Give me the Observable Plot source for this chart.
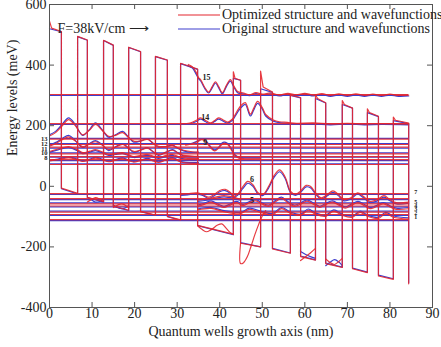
<!DOCTYPE html>
<html><head><meta charset="utf-8">
<script src="https://cdn.jsdelivr.net/npm/d3@7"></script>
<script src="https://cdn.jsdelivr.net/npm/@observablehq/plot@0.6"></script>
<style>
html,body{margin:0;padding:0;background:#fff;}
#wrap{position:relative;width:441px;height:347px;font-family:"Liberation Serif",serif;}
#legend{position:absolute;left:178px;top:8px;font-size:14px;color:#222;line-height:14px;}
#legend .row{display:flex;align-items:center;height:14px;white-space:nowrap;}
#legend span{margin-left:2px;}
</style></head><body><div id="wrap"></div>
<script>
// ---------- data ----------
const seriesNames = ["Optimized structure and wavefunctions", "Original structure and wavefunctions"];
const xTicks = [0, 10, 20, 30, 40, 50, 60, 70, 80, 90];
const yTicks = [-400, -200, 0, 200, 400, 600];

// conduction band profile [nm, meV]
const profileOriginal = [[0,520],[2.8,510],[2.8,-8],[6.6,-25],[6.6,494],[8.9,482],[8.9,-37],[12.7,-52],[12.7,481],[15.0,465],[15.0,-66],[18.6,-80],[18.6,458],[21.4,444],[21.4,-84],[24.9,-96],[24.9,428],[27.7,416],[27.7,-100],[30.8,-112],[30.8,405],[34.8,386],[34.8,-130],[43.2,-160],[43.2,356],[44.9,350],[44.9,-186],[49.6,-200],[49.6,322],[52.4,310],[52.4,-205],[56.6,-220],[56.6,300],[59.0,292],[59.0,-230],[62.5,-243],[62.5,290],[64.9,275],[64.9,-253],[68.8,-267],[68.8,270],[71.2,258],[71.2,-270],[74.7,-283],[74.7,243],[77.3,230],[77.3,-293],[80.8,-305],[80.8,217],[84.4,207],[84.4,-318]];
const profileOptimized = [[0,545],[0.5,522],[2.8,511],[2.8,-6],[6.6,-23],[6.6,495],[8.9,483],[8.9,-36],[12.7,-51],[12.7,482],[15.0,466],[15.0,-65],[18.6,-79],[18.6,459],[21.4,445],[21.4,-83],[24.9,-95],[24.9,429],[27.7,417],[27.7,-99],[30.8,-111],[30.8,406],[34.8,387],[34.8,-129],[43.2,-158],[43.2,378],[43.6,356],[44.9,350],[44.9,-188],[49.6,-200],[49.6,380],[50.2,328],[52.4,311],[52.4,-207],[56.6,-221],[56.6,301],[59.0,293],[59.0,-232],[62.5,-244],[62.5,302],[63.0,290],[64.9,276],[64.9,-255],[68.8,-268],[68.8,283],[69.3,270],[71.2,258],[71.2,-272],[74.7,-285],[74.7,256],[75.2,243],[77.3,231],[77.3,-296],[80.8,-307],[80.8,228],[81.3,218],[84.4,209],[84.4,-322]];

// energy levels (meV), drawn across the structure
const levelSpan = [0, 84.4];
const levelsOriginal = [300, 204, 158, 141, 126, 110, 96, 85, 74, -27, -44, -55, -68, -82, -96, -113];
const levelsOptimized = [303, 207, 156, 138, 129, 107, 98, 88, 72, -24, -41, -58, -65, -85, -93, -110];

// wavefunctions [nm, meV]
const wf13Original = [[0,170],[1.5,182],[3,205],[4.5,226],[6,205],[7.8,168],[9.3,186],[10.8,209],[12.3,188],[13.9,162],[15.5,170],[17.2,181],[18.5,163],[19.8,146],[21.5,150],[23,157],[24.3,142],[25.6,129],[27.3,131],[28.9,136],[30.2,125],[31.5,117],[33.5,112],[35,112]];
const wf13Optimized = [[0,166],[1.5,178],[3,200],[4.5,220],[6,201],[7.8,170],[9.3,184],[10.8,204],[12.3,186],[13.9,165],[15.5,168],[17.2,177],[18.5,162],[19.8,149],[21.5,150],[23,155],[24.3,143],[25.6,132],[27.3,131],[28.9,134],[30.2,126],[31.5,119],[33.5,114],[35,113]];
const wf12Original = [[0,135],[1.5,145],[3,158],[4.5,168],[6,152],[7.8,128],[9.3,140],[10.8,151],[12.3,138],[13.9,118],[15.5,130],[17.2,141],[18.5,127],[19.8,112],[21.5,120],[23,128],[24.3,114],[25.6,102],[27.3,112],[28.9,121],[30.2,110],[31.5,100],[33.5,98],[35,98]];
const wf12Optimized = [[0,132],[1.5,141],[3,154],[4.5,163],[6,150],[7.8,131],[9.3,139],[10.8,147],[12.3,137],[13.9,121],[15.5,129],[17.2,138],[18.5,126],[19.8,115],[21.5,120],[23,126],[24.3,115],[25.6,105],[27.3,112],[28.9,119],[30.2,110],[31.5,102],[33.5,100],[35,99]];
const wf11Original = [[0,112],[2,120],[4.5,128],[6.5,118],[7.8,108],[9.5,113],[10.8,118],[12.5,110],[13.9,102],[15.5,105],[17.2,108],[18.7,100],[19.8,95],[21.5,99],[23,102],[24.5,96],[25.6,92],[27.3,98],[28.9,102],[30.5,94],[32,90],[35,89]];
const wf11Optimized = [[0,115],[2,123],[4.5,131],[6.5,121],[7.8,111],[9.5,116],[10.8,121],[12.5,113],[13.9,105],[15.5,108],[17.2,111],[18.7,103],[19.8,98],[21.5,102],[23,105],[24.5,99],[25.6,95],[27.3,101],[28.9,105],[30.5,97],[32,93],[35,92]];
const wf10Original = [[0,86],[2,90],[4.5,97],[6.5,90],[7.8,84],[9.5,90],[10.8,96],[12.5,89],[13.9,83],[15.5,88],[17.2,94],[18.7,86],[19.8,82],[21.5,87],[23,92],[24.5,85],[25.6,81],[27.3,88],[28.9,95],[30.5,84],[32,79],[35,78]];
const wf10Optimized = [[0,84],[2,88],[4.5,94],[6.5,88],[7.8,82],[9.5,88],[10.8,93],[12.5,87],[13.9,81],[15.5,86],[17.2,91],[18.7,84],[19.8,80],[21.5,85],[23,89],[24.5,83],[25.6,79],[27.3,86],[28.9,92],[30.5,82],[32,77],[35,76]];
const wf15Original = [[32.6,398],[33.6,390],[34.4,372],[35,356],[35.6,346],[36.5,322],[37.4,308],[38.2,324],[39,341],[39.8,324],[40.6,305],[41.6,330],[42.5,347],[43.3,328],[44.2,309],[45.6,305],[47,299],[48.5,306],[50,301],[52,305],[54,298],[56,304],[58,299],[60,304],[62,298],[64,303],[66,297],[68,302],[70,297],[72,302],[74,297],[76,301],[78,297],[80,301],[82,297],[84.4,298]];
const wf15Optimized = [[32.6,402],[33.6,394],[34.4,378],[35,360],[35.6,350],[36.5,326],[37.4,311],[38.2,328],[39,345],[39.8,328],[40.6,309],[41.6,334],[42.5,352],[43.3,332],[44.2,313],[45.6,308],[47,302],[48.5,309],[50,304],[52,308],[54,301],[56,307],[58,302],[60,307],[62,301],[64,306],[66,300],[68,305],[70,300],[72,305],[74,300],[76,304],[78,300],[80,304],[82,300],[84.4,301]];
const wf14Original = [[31,204],[33,206],[34.5,214],[35.5,222],[36.6,214],[37.8,206],[38.8,214],[39.7,222],[40.8,215],[41.8,209],[43,218],[44,240],[44.9,258],[46,270],[47.2,232],[48,252],[48.9,274],[50,255],[50.8,232],[52.6,215],[54,210],[55.9,208],[58,205],[62,206],[66,203],[70,205],[74,203],[78,204],[84.4,203]];
const wf14Optimized = [[31,207],[33,209],[34.5,218],[35.5,226],[36.6,218],[37.8,209],[38.8,217],[39.7,226],[40.8,219],[41.8,212],[43,222],[44,246],[44.9,265],[46,276],[47.2,238],[48,258],[48.9,280],[50,260],[50.8,237],[52.6,219],[54,213],[55.9,211],[58,208],[62,209],[66,206],[70,208],[74,206],[78,207],[84.4,206]];
const wf9Original = [[32,138],[33.5,142],[34.8,150],[35.8,157],[36.8,150],[37.8,132],[38.8,120],[39.8,130],[40.8,145],[41.8,142],[42.7,125],[43.5,105],[44.5,96],[46,94],[49.6,94]];
const wf9Optimized = [[32,136],[33.5,140],[34.8,147],[35.8,154],[36.8,147],[37.8,128],[38.8,117],[39.8,127],[40.8,141],[41.8,139],[42.7,121],[43.5,102],[44.5,93],[46,91],[49.6,91]];
const wf7Original = [[30.8,-30],[32.5,-28],[34.8,-26],[36,-30],[37.4,-40],[38.6,-32],[40,-18],[41.3,-14],[42.5,-24],[43.5,-40],[44.9,-46]];
const wf7Optimized = [[30.8,-26],[32.5,-24],[34.8,-22],[36,-27],[37.4,-36],[38.6,-28],[40,-14],[41.3,-10],[42.5,-20],[43.5,-36],[44.9,-43]];
const wf6Original = [[34.8,-50],[37,-46],[39,-40],[41,-35],[43,-38],[44.2,-30],[45.4,-8],[46.6,10],[47.8,0],[49,-25],[50.2,-30],[51.5,-5],[52.8,30],[54.1,48],[55.4,25],[56.6,-20],[57.8,-30],[59,-20],[60.3,-2],[61.3,-5],[62.5,-25],[63.8,-42],[65.2,-32],[66.6,-20],[67.8,-30],[69.2,-48],[70.8,-42],[72.4,-26],[73.8,-38],[75.3,-54],[77,-48],[78.6,-36],[80,-48],[81.5,-58],[84.4,-56]];
const wf6Optimized = [[34.8,-46],[37,-42],[39,-36],[41,-31],[43,-34],[44.2,-26],[45.4,-2],[46.6,16],[47.8,5],[49,-21],[50.2,-26],[51.5,0],[52.8,36],[54.1,54],[55.4,30],[56.6,-16],[57.8,-26],[59,-16],[60.3,3],[61.3,0],[62.5,-21],[63.8,-38],[65.2,-28],[66.6,-15],[67.8,-26],[69.2,-44],[70.8,-38],[72.4,-22],[73.8,-34],[75.3,-50],[77,-44],[78.6,-31],[80,-44],[81.5,-54],[84.4,-52]];
const wf5Original = [[34.8,-62],[36.5,-55],[38,-48],[39.5,-58],[41,-66],[42.5,-58],[44,-50],[45.5,-60],[47,-50],[48.5,-44],[50,-55],[51.5,-62],[53,-48],[54.5,-36],[56,-50],[57.5,-62],[59,-55],[60.5,-45],[62,-55],[63.5,-66],[65,-56],[66.5,-48],[68,-58],[69.5,-68],[71,-58],[72.5,-50],[74,-60],[75.5,-70],[77,-62],[78.5,-54],[80,-64],[81.5,-72],[84.4,-70]];
const wf5Optimized = [[34.8,-66],[36.5,-59],[38,-52],[39.5,-62],[41,-70],[42.5,-62],[44,-54],[45.5,-64],[47,-54],[48.5,-48],[50,-59],[51.5,-66],[53,-52],[54.5,-40],[56,-54],[57.5,-66],[59,-59],[60.5,-49],[62,-59],[63.5,-70],[65,-60],[66.5,-52],[68,-62],[69.5,-72],[71,-62],[72.5,-54],[74,-64],[75.5,-74],[77,-66],[78.5,-58],[80,-68],[81.5,-76],[84.4,-74]];
const wf4Original = [[34.8,-75],[38,-70],[41,-80],[44.9,-86],[47,-72],[49.6,-82],[52.4,-90],[54.5,-70],[56.6,-85],[59,-92],[60.8,-75],[62.5,-88],[64.9,-95],[66.8,-78],[68.8,-92],[71.2,-98],[73,-82],[74.7,-95],[77.3,-102],[79,-86],[80.8,-98],[84.4,-104]];
const wf4Optimized = [[34.8,-78],[38,-73],[41,-84],[44.9,-90],[47,-76],[49.6,-86],[52.4,-94],[54.5,-74],[56.6,-89],[59,-96],[60.8,-79],[62.5,-92],[64.9,-99],[66.8,-82],[68.8,-96],[71.2,-102],[73,-86],[74.7,-99],[77.3,-106],[79,-90],[80.8,-102],[84.4,-108]];
// wavefunction lobes inside single wells
const wellOriginal = [
  [[8.9,-36],[9.8,-44],[10.8,-52],[11.8,-50],[12.7,-40]],
  [[15.0,-62],[16,-70],[17,-74],[18,-70],[18.6,-62]],
  [[59.0,-215],[60.2,-225],[61.3,-232],[62.5,-238]],
  [[64.9,-262],[66,-250],[67,-242],[68,-250],[68.8,-262]]
];
const wellOptimized = [
  [[8.9,-52],[9.8,-44],[10.8,-37],[11.8,-42],[12.7,-50]],
  [[15.0,-70],[16,-62],[17,-58],[18,-64],[18.6,-72]],
  [[34.8,-130],[35.8,-142],[36.8,-150],[38,-143],[39.5,-128],[40.5,-124],[41.5,-138],[42.4,-152],[43.2,-158]],
  [[44.9,-188],[44.9,-255],[45.6,-252],[46.5,-232],[47.4,-196],[48.3,-158],[49.2,-124],[50,-98],[50.8,-80]],
  [[59.0,-245],[60.2,-232],[61.3,-220],[62.5,-205]],
  [[64.9,-240],[66,-252],[67,-258],[68,-248],[68.8,-238]]
];

// state labels
const innerLabels = ["15", "14", "9", "6", "5"];
const innerLabelX = [36.9, 36.6, 36.6, 47.6, 47.6];
const innerLabelE = [360, 228, 146, 22, -47];
const leftLabels = ["13", "12", "11", "10", "8"];
const leftLabelE = [158, 141, 125, 110, 95];
const rightLabels = ["7", "5", "4", "3", "2", "1"];
const rightLabelE = [-20, -52, -64, -76, -88, -102];
const fieldNote = "F=38kV/cm \u27F6";

// ---------- build ----------
const RED = "rgb(228,38,46)";
const BLUE = "rgb(62,62,205)";
function rows(list, id) { return list.map(([x, y]) => ({x, y, id})); }
const wfOriginal = [wf13Original, wf12Original, wf11Original, wf10Original, wf15Original, wf14Original, wf9Original, wf7Original, wf6Original, wf5Original, wf4Original, ...wellOriginal];
const wfOptimized = [wf13Optimized, wf12Optimized, wf11Optimized, wf10Optimized, wf15Optimized, wf14Optimized, wf9Optimized, wf7Optimized, wf6Optimized, wf5Optimized, wf4Optimized, ...wellOptimized];
const wfRowsOriginal = wfOriginal.flatMap((w, i) => rows(w, "o" + i));
const wfRowsOptimized = wfOptimized.flatMap((w, i) => rows(w, "p" + i));
const profRowsOriginal = rows(profileOriginal, "po");
const profRowsOptimized = rows(profileOptimized, "pp");

const font = "Liberation Serif, Times New Roman, serif";
const chart = Plot.plot({
  width: 441, height: 347,
  marginTop: 4, marginRight: 9, marginBottom: 40, marginLeft: 49,
  x: {domain: [0, 90], label: null},
  y: {domain: [-400, 600], label: null},
  style: {fontFamily: font, fontSize: "13px", color: "#222", background: "white", overflow: "visible"},
  marks: [
    Plot.ruleY(levelsOriginal, {y: d => d, x1: levelSpan[0], x2: levelSpan[1], stroke: BLUE, strokeWidth: 1.2}),
    Plot.line(profRowsOriginal, {x: "x", y: "y", z: "id", stroke: BLUE, strokeWidth: 1.2}),
    Plot.line(wfRowsOriginal, {x: "x", y: "y", z: "id", stroke: BLUE, strokeWidth: 1.2, curve: "catmull-rom"}),
    Plot.ruleY(levelsOptimized, {y: d => d, x1: levelSpan[0], x2: levelSpan[1], stroke: RED, strokeWidth: 1.2, strokeOpacity: 0.9}),
    Plot.line(profRowsOptimized, {x: "x", y: "y", z: "id", stroke: RED, strokeWidth: 1.2, strokeOpacity: 0.9}),
    Plot.line(wfRowsOptimized, {x: "x", y: "y", z: "id", stroke: RED, strokeWidth: 1.2, strokeOpacity: 0.9, curve: "catmull-rom"}),
    Plot.frame({stroke: "#555"}),
    Plot.tickX(xTicks, {x: d => d, insetTop: 298, stroke: "#555"}),
    Plot.tickX(xTicks, {x: d => d, insetBottom: 298, stroke: "#555"}),
    Plot.tickY(yTicks, {y: d => d, insetRight: 378, stroke: "#555"}),
    Plot.tickY(yTicks, {y: d => d, insetLeft: 378, stroke: "#555"}),
    Plot.axisX(xTicks, {tickSize: 0, tickPadding: 1, fontSize: 14, label: null}),
    Plot.axisY(yTicks, {tickSize: 0, tickPadding: 3, fontSize: 14, label: null, tickFormat: d => String(d)}),
    Plot.text(innerLabels, {x: (d, i) => innerLabelX[i], y: (d, i) => innerLabelE[i], text: d => d, fontSize: 8, fontWeight: "bold", fill: "#222"}),
    Plot.text(leftLabels, {x: 0, y: (d, i) => leftLabelE[i], text: d => d, dx: -2, textAnchor: "end", fontSize: 6.5, fontWeight: "bold", fill: "#222"}),
    Plot.text(rightLabels, {x: levelSpan[1], y: (d, i) => rightLabelE[i], text: d => d, dx: 7, fontSize: 6, fontWeight: "bold", fill: "#222"}),
    Plot.text([fieldNote], {frameAnchor: "top-left", text: d => d, dx: 8, dy: 19, textAnchor: "start", fontSize: 14, fill: "#222"}),
    Plot.text(["Energy levels (meV)"], {frameAnchor: "left", text: d => d, rotate: -90, dx: -37, fontSize: 14, fill: "#222"}),
    Plot.text(["Quantum wells growth axis (nm)"], {frameAnchor: "bottom", text: d => d, dy: 28, fontSize: 14, fill: "#222"})
  ]
});

const wrap = document.getElementById("wrap");
wrap.appendChild(chart);
const legend = document.createElement("div");
legend.id = "legend";
const legendColors = [RED, BLUE];
seriesNames.forEach((name, i) => {
  const row = document.createElement("div");
  row.className = "row";
  row.innerHTML = `<svg width="42" height="10"><line x1="0" y1="5" x2="42" y2="5" stroke="${legendColors[i]}" stroke-width="1.2"/></svg><span></span>`;
  row.querySelector("span").textContent = name;
  legend.appendChild(row);
});
wrap.appendChild(legend);
</script></body></html>
